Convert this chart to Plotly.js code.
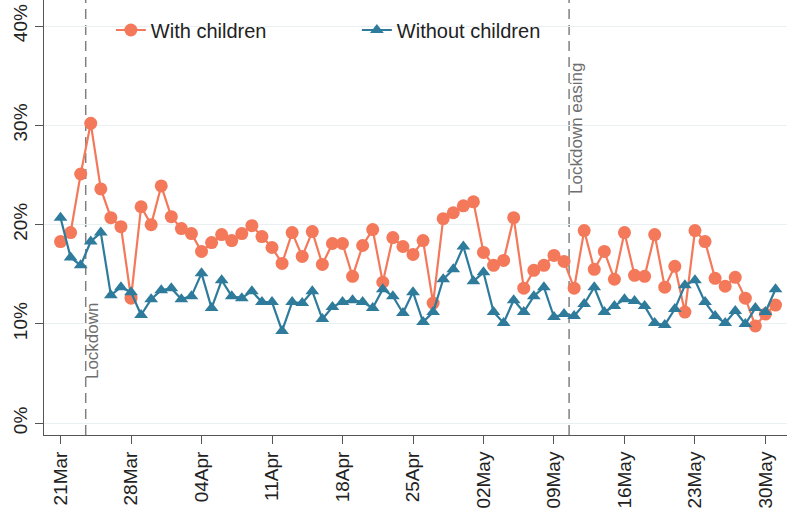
<!DOCTYPE html>
<html>
<head>
<meta charset="utf-8">
<script src="https://cdn.plot.ly/plotly-3.0.1.min.js"></script>
<style>html,body{margin:0;padding:0;background:#fff;}#chart{width:787px;height:515px;}</style>
</head>
<body>
<div id="chart"></div>
<script>
// ---- data (percent) ----
const startDate = "2020-03-21";
const nDays = 72;
const withChildren = [18.3,19.2,25.1,30.2,23.6,20.7,19.8,12.6,21.8,20.0,23.9,20.8,19.6,19.1,17.3,18.2,19.0,18.4,19.1,19.9,
  18.8,17.7,16.1,19.2,16.8,19.3,16.0,18.1,18.1,14.8,17.9,19.5,14.2,18.7,17.8,17.0,18.4,12.1,20.6,21.2,
  21.9,22.3,17.2,15.9,16.4,20.7,13.6,15.4,15.9,16.9,16.3,13.6,19.4,15.5,17.3,14.5,19.2,14.9,14.8,19.0,
  13.7,15.8,11.2,19.4,18.3,14.6,13.8,14.7,12.6,9.8,11.0,11.9];
const withoutChildren = [20.7,16.7,15.9,18.3,19.2,12.9,13.7,13.2,10.9,12.5,13.4,13.6,12.5,12.8,15.1,11.6,14.4,12.8,12.6,13.3,
  12.2,12.2,9.3,12.2,12.1,13.3,10.5,11.7,12.2,12.4,12.2,11.6,13.5,12.8,11.1,13.2,10.2,11.2,14.5,15.5,
  17.8,14.3,15.2,11.2,10.1,12.4,11.2,12.8,13.7,10.7,11.0,10.8,12.0,13.7,11.2,11.8,12.5,12.3,11.8,10.1,
  9.9,11.5,13.9,14.4,12.2,10.8,10.1,11.3,10.0,11.6,11.2,13.5];
const seriesNames = ["With children", "Without children"];
const tickDates = ["2020-03-21","2020-03-28","2020-04-04","2020-04-11","2020-04-18","2020-04-25",
  "2020-05-02","2020-05-09","2020-05-16","2020-05-23","2020-05-30"];
const tickLabels = ["21Mar","28Mar","04Apr","11Apr","18Apr","25Apr","02May","09May","16May","23May","30May"];
const yTicks = [0,10,20,30,40];
const yTickLabels = ["0%","10%","20%","30%","40%"];
const eventDates = ["2020-03-23 12:00","2020-05-10 12:00"];
const eventLabels = ["Lockdown","Lockdown easing"];
const eventLabelY = [8.3, 29.7];

// build dates
const dates = [];
for (let i = 0; i < nDays; i++) {
  const d = new Date(Date.UTC(2020, 2, 21 + i));
  dates.push(d.toISOString().slice(0,10));
}

const orange = "#f3795a";
const blue = "#2e7b9c";
const font = "Liberation Sans, Arial, sans-serif";

const traces = [
  {x: dates, y: withChildren, name: seriesNames[0], type: "scatter", mode: "lines+markers",
   line: {color: orange, width: 2.2}, marker: {color: orange, size: 13, symbol: "circle"}},
  {x: dates, y: withoutChildren, name: seriesNames[1], type: "scatter", mode: "lines+markers",
   line: {color: blue, width: 2.2}, marker: {color: blue, size: 12, symbol: "triangle-up"}}
];

const shapes = eventDates.map(d => ({
  type: "line", xref: "x", yref: "paper", x0: d, x1: d, y0: 0, y1: 1,
  line: {color: "#808080", width: 1.5, dash: "10px,6px"}, layer: "below"
}));

const annotations = eventDates.map((d, i) => ({
  xref: "x", yref: "y", x: d, y: eventLabelY[i], text: eventLabels[i], textangle: -90,
  showarrow: false, xanchor: "left", yanchor: "middle", xshift: -4,
  font: {family: font, size: 17, color: "#6e6e6e"}
}));

const layout = {
  width: 787, height: 515,
  margin: {l: 44, r: 0, t: 0, b: 80, pad: 0},
  paper_bgcolor: "#ffffff", plot_bgcolor: "#ffffff",
  showlegend: true,
  legend: {orientation: "h", x: 0.09, xanchor: "left", y: 0.931, yanchor: "middle",
    bgcolor: "rgba(0,0,0,0)", font: {family: font, size: 20, color: "#222"},
    entrywidth: 201, entrywidthmode: "pixels", traceorder: "normal"},
  xaxis: {type: "date", range: ["2020-03-19 08:36", "2020-06-01 03:20"],
    tickvals: tickDates, ticktext: tickLabels, tickangle: -90,
    showgrid: false, zeroline: false, showline: true, linecolor: "#555", linewidth: 1,
    ticks: "outside", ticklen: 8, tickcolor: "#555",
    tickfont: {family: font, size: 19, color: "#222"}},
  yaxis: {range: [-1.18, 42.62], tickvals: yTicks, ticktext: yTickLabels, tickangle: -90,
    showgrid: true, gridcolor: "#e8f0f1", gridwidth: 1, zeroline: false,
    showline: true, linecolor: "#555", linewidth: 1,
    ticks: "outside", ticklen: 8, tickcolor: "#555",
    tickfont: {family: font, size: 19, color: "#222"}},
  shapes: shapes,
  annotations: annotations
};

Plotly.newPlot("chart", traces, layout, {displayModeBar: false, staticPlot: true});
</script>
</body>
</html>
